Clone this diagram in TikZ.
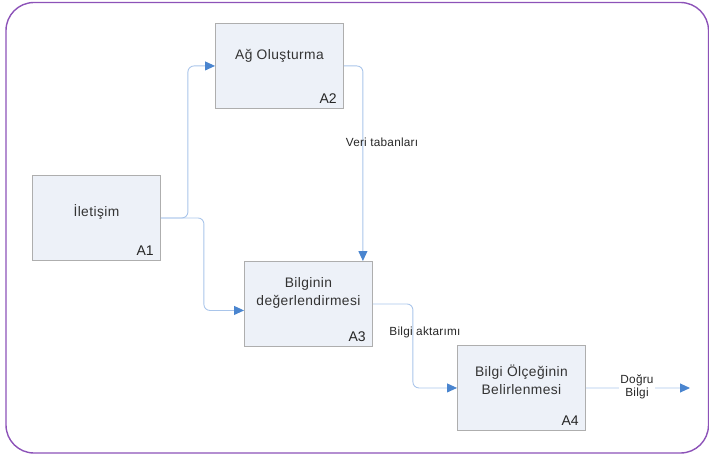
\documentclass[tikz,border=0pt]{standalone}
\usepackage{fontspec}
\setmainfont{Liberation Sans}
\usetikzlibrary{arrows.meta}
\definecolor{framepurple}{HTML}{8C52B8}
\definecolor{boxfill}{HTML}{EDF1F8}
\definecolor{boxline}{HTML}{AEAEAE}
\definecolor{linkblue}{HTML}{A9C5EA}
\definecolor{tipblue}{HTML}{4A85CF}
\begin{document}
\begin{tikzpicture}[x=1pt,y=-1pt,
  frame/.style={draw=framepurple,line width=1.4pt,rounded corners=28pt},
  actbox/.style={draw=boxline,fill=boxfill,line width=0.9pt,minimum width=128pt,minimum height=85pt,inner sep=0pt,anchor=north west},
  acttext/.style={font=\fontsize{13.8}{17.5}\selectfont\addfontfeatures{LetterSpace=3},align=center,text=black!80},
  actid/.style={font=\fontsize{14}{16}\selectfont,text=black!85,anchor=south east,inner sep=0pt},
  conn/.style={draw=linkblue,line width=0.9pt,rounded corners=6pt,-{Triangle[length=10pt,width=9pt,color=tipblue]}},
  flowlabel/.style={font=\fontsize{11.8}{13}\selectfont\addfontfeatures{LetterSpace=2},align=center,text=black!85,inner sep=1pt}]
  \useasboundingbox (0,0) rectangle (709,457);
  \draw[frame] (6,2.5) rectangle (708.5,453);

  % activity boxes
  \node[actbox] (a1) at (32,175) {};
  \node[actbox] (a2) at (215,23) {};
  \node[actbox] (a3) at (244,261) {};
  \node[actbox] (a4) at (457,345) {};

  % box titles and numbers
  \node[acttext] (t1) at ([yshift=6pt]a1.center) {İletişim};
  \node[acttext] (t2) at ([yshift=10pt]a2.center) {Ağ Oluşturma};
  \node[acttext] (t3) at ([yshift=11pt]a3.center) {Bilginin\\değerlendirmesi};
  \node[acttext] (t4) at ([yshift=8pt]a4.center) {Bilgi Ölçeğinin\\Belirlenmesi};
  \node[actid] (n1) at ([xshift=-7pt,yshift=5pt]a1.south east) {A1};
  \node[actid] (n2) at ([xshift=-7pt,yshift=5pt]a2.south east) {A2};
  \node[actid] (n3) at ([xshift=-7pt,yshift=5pt]a3.south east) {A3};
  \node[actid] (n4) at ([xshift=-7pt,yshift=5pt]a4.south east) {A4};

  % connectors
  \draw[conn] (a1.east) -- ++(27,0) |- (a2.west);
  \draw[conn] (a1.east) -- ++(43,0) |- ([yshift=-6.5pt]a3.west);
  \draw[conn] (a2.east) -| ([xshift=-10pt]a3.north east);
  \draw[conn] (a3.east) -- ++(40,0) |- (a4.west);
  \coordinate (out) at (690,388);
  \draw[conn] (a4.east) -- (out);

  % flow labels
  \node[flowlabel] (l1) at (382,142) {Veri tabanları};
  \node[flowlabel] (l2) at (425,332) {Bilgi aktarımı};
  \node[flowlabel,fill=white] (l3) at (637,387) {Doğru\\Bilgi};
\end{tikzpicture}
\end{document}
